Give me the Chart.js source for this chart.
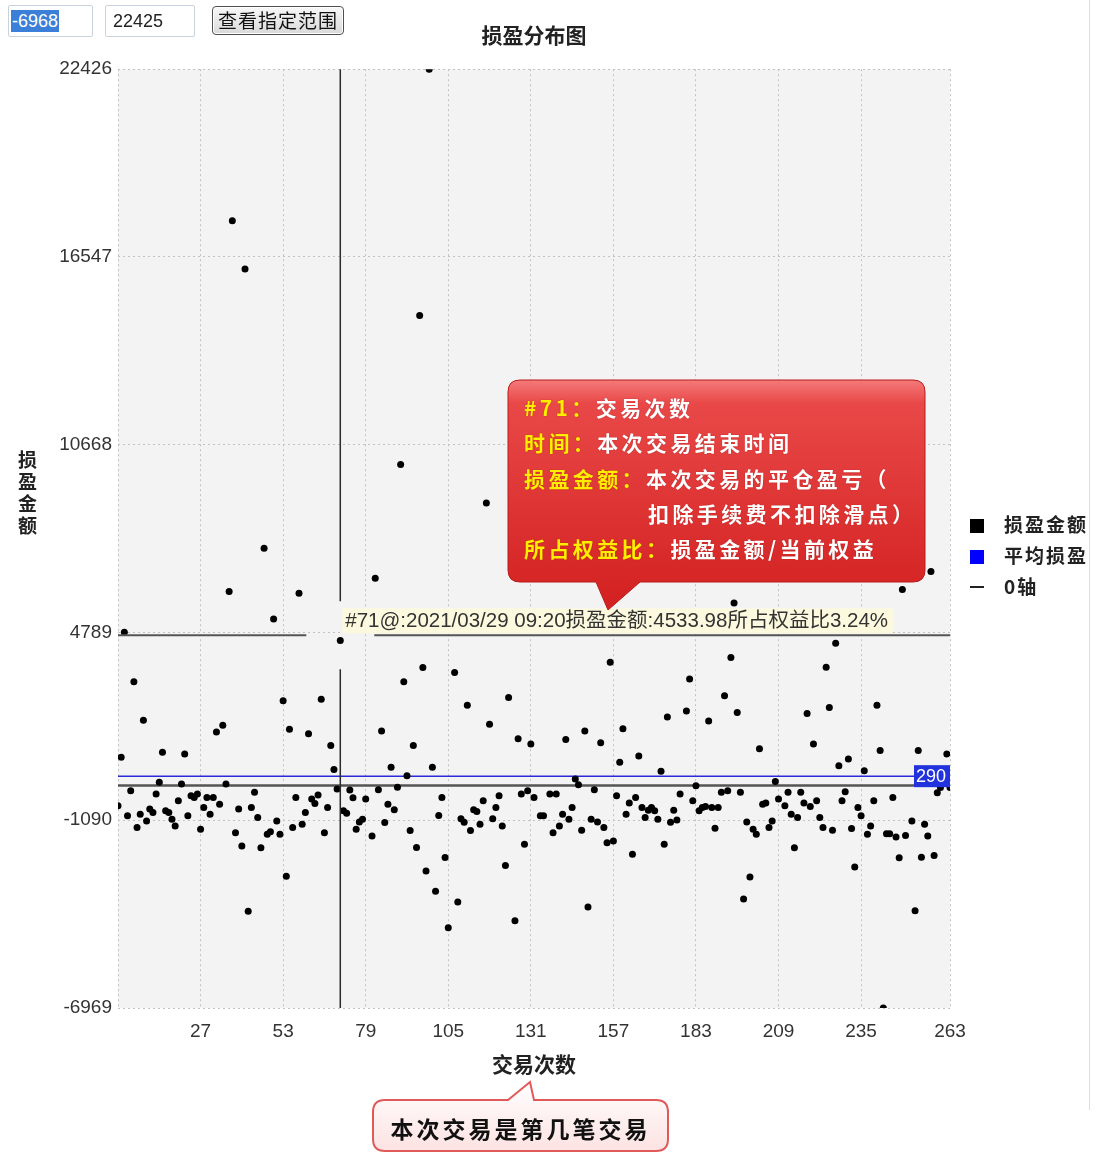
<!DOCTYPE html>
<html lang="zh">
<head>
<meta charset="utf-8">
<title>损盈分布图</title>
<script src="https://cdn.jsdelivr.net/npm/chart.js@4.4.1/dist/chart.umd.min.js"></script>
<style>
  html, body { margin: 0; padding: 0; background: #fff; }
  body { position: relative; width: 1101px; height: 1153px; overflow: hidden;
         font-family: "Noto Sans CJK SC", "Liberation Sans", sans-serif; }
  #c { position: absolute; left: 0; top: 0; }
  #shapes { position: absolute; left: 0; top: 0; pointer-events: none; }
  .field { position: absolute; top: 5px; height: 32px; box-sizing: border-box;
           border: 1px solid #c8d2dc; border-radius: 2px; background: #fff;
           font: 18px "Liberation Sans", sans-serif; line-height: 30px; color: #222; }
  #minBox { left: 8px; width: 85px; padding-left: 2px; }
  #minBox .sel { background: #3b7fd8; color: #fff; padding: 1px 1px; }
  #maxBox { left: 105px; width: 90px; padding-left: 7px; }
  #btn { position: absolute; left: 212px; top: 6px; width: 132px; height: 29px; box-sizing: border-box;
         border: 1px solid #505050; border-radius: 4px;
         background: linear-gradient(#f8f8f8, #d9d9d9); box-shadow: inset 0 0 0 1px #fff;
         font-size: 19px; line-height: 26px; text-align: center; letter-spacing: 1px; color: #111; }
  #ytitle { position: absolute; left: 14px; top: 450px; writing-mode: vertical-rl;
            font-size: 19px; font-weight: bold; letter-spacing: 3px; color: #222; }
  #legend { position: absolute; left: 968px; top: 508px; font-size: 19px; font-weight: bold;
            letter-spacing: 2px; color: #222; }
  #legend .li { height: 31px; line-height: 31px; white-space: nowrap; }
  #legend .sw { display: inline-block; width: 14px; height: 14px; margin: 0 20px 0 2px; vertical-align: -1px; }
  #legend .dash { display: inline-block; width: 14px; height: 2px; background: #222; margin: 0 20px 0 2px; vertical-align: 6px; }
  #tip { position: absolute; left: 524px; top: 390px; font-size: 21px; font-weight: bold;
         line-height: 35.25px; letter-spacing: 3.4px; color: #fff; white-space: nowrap;
         text-shadow: 0 0 1px #a01010; }
  #tip .y { color: #ffee00; }
  #tip .ind { padding-left: 124px; }
  #note { position: absolute; left: 373px; top: 1110px; width: 295px; text-align: center;
          font-size: 23px; font-weight: bold; line-height: 36px; letter-spacing: 3px; color: #111; }
  #edge { position: absolute; left: 1089px; top: 0; width: 1px; height: 1110px; background: #dedede; }
</style>
</head>
<body>
<canvas id="c" width="1101" height="1153"></canvas>

<svg id="shapes" width="1101" height="1153" viewBox="0 0 1101 1153">
  <defs>
    <linearGradient id="redFill" x1="0" y1="0" x2="0" y2="1">
      <stop offset="0" stop-color="#f47a7a"/>
      <stop offset="0.1" stop-color="#e94848"/>
      <stop offset="1" stop-color="#d32020"/>
    </linearGradient>
    <linearGradient id="pinkFill" x1="0" y1="0" x2="0" y2="1">
      <stop offset="0" stop-color="#ffffff"/>
      <stop offset="1" stop-color="#fde2e2"/>
    </linearGradient>
  </defs>
  <path d="M520 380 H913 Q925 380 925 392 V570 Q925 582 913 582 H640 L608 610 L596 582 H520 Q508 582 508 570 V392 Q508 380 520 380 Z"
        fill="url(#redFill)" stroke="#b81a1a" stroke-width="1"/>
  <path d="M385 1100 H508 L530 1082 L534 1100 H656 Q668 1100 668 1112 V1139 Q668 1151 656 1151 H385 Q373 1151 373 1139 V1112 Q373 1100 385 1100 Z"
        fill="url(#pinkFill)" stroke="#e05a5a" stroke-width="2"/>
</svg>

<div class="field" id="minBox"><span class="sel">-6968</span></div>
<div class="field" id="maxBox">22425</div>
<div id="btn">查看指定范围</div>
<div id="ytitle">损盈金额</div>
<div id="legend">
  <div class="li"><span class="sw" style="background:#000"></span>损盈金额</div>
  <div class="li"><span class="sw" style="background:#0000ff"></span>平均损盈</div>
  <div class="li"><span class="dash"></span>0轴</div>
</div>
<div id="tip">
  <div><span class="y">#71：</span>交易次数</div>
  <div><span class="y">时间：</span>本次交易结束时间</div>
  <div><span class="y">损盈金额：</span>本次交易的平仓盈亏（</div>
  <div class="ind">扣除手续费不扣除滑点）</div>
  <div><span class="y">所占权益比：</span>损盈金额/当前权益</div>
</div>
<div id="note">本次交易是第几笔交易</div>
<div id="edge"></div>

<script>
// trade results, trade number = index + 1 (null = hidden / not readable)
const pnl = [
  -640, 885, 4800, -952, -167, 3245, -1320, -901, 2040, -1110,
  -741, -845, -270, 99, 1037, -795, -845, -1057, -1267, -479,
  47, 985, -952, -323, -376, -270, -1373, -691, -376, -901,
  -376, 1673, -586, 1882, 47, 6072, 17680, -1478, -741, -1895,
  16172, -3943, -691, -217, -1004, -1948, 7423, -1530, -1448, 5210,
  -1110, -1530, 2648, -2840, 1757, -1320, -376, 6019, -1214, -845,
  1620, -428, -565, -302, 2701, -1478, -691, 1253, 497, -113,
  4534, -795, -869, -145, -386, -1373, -1142, -1057, -428, null,
  -1583, 6490, -135, 1705, -1163, -586, 571, -764, -57, 10046,
  3245, 300, -1415, 1253, -1940, 14715, 3695, -2680, 22425, 571,
  -3310, -942, -376, -2260, -4460, null, 3539, -3653, -1046, -1150,
  2510, -1415, -764, -817, -1214, -479, 8845, 1913, -1046, -691,
  -323, -1267, -2505, 2751, null, -4237, 1460, -270, -1842, -167,
  1300, -376, null, -952, -952, null, -270, -1478, -270, -1267,
  -901, 1438, -1057, -691, 203, 24, -1400, 1705, -3806, -1057,
  -135, -1142, 1336, -1320, -1792, 3858, -1740, -323, 728, 1776,
  -901, -554, -2158, -376, 919, -691, -1004, -777, -691, -795,
  -1057, 443, -1842, 2145, -1150, -777, -1084, -270, null, 2332,
  3329, -479, -7, -795, -691, -660, 2020, -691, -1339, -691,
  -217, 2805, -167, 4002, 5715, 2281, -217, -3556, -1142, -2870,
  -1373, -1530, 1148, -586, -554, -1320, -1110, 120, -428, null,
  -640, -217, -901, -1948, -1004, -217, -554, 2250, -660, 1300,
  -479, -1004, -1320, 3699, 2438, -1404, 4455, 619, -479, -198,
  828, -1351, -2558, -691, -952, 462, -1530, -1267, -479, 2510,
  1091, -6968, -1511, -1511, -376, -1617, -2266, 6138, -1564, null,
  -1110, -3922, 1091, -2246, -1214, -1583, 6697, -2193, -226, -66,
  196, 985, -66
];
const xTicks = [1, 27, 53, 79, 105, 131, 157, 183, 209, 235, 263];
const yTicks = [-6969, -1090, 4789, 10668, 16547, 22426];
const meanValue = 290;
const zeroValue = 0;
const crossTrade = 71;
const crossValue = 4700;
const crossText = '#71@:2021/03/29 09:20损盈金额:4533.98所占权益比3.24%';

const points = pnl.map((v, i) => ({ x: i + 1, y: v })).filter(p => p.y !== null);

const overlay = {
  id: 'overlay',
  beforeDraw(chart) {
    const { ctx, chartArea: a } = chart;
    ctx.save();
    ctx.fillStyle = '#f3f3f3';
    ctx.fillRect(a.left, a.top, a.right - a.left, a.bottom - a.top);
    ctx.restore();
  },
  beforeDatasetsDraw(chart) {
    const { ctx, chartArea: a, scales } = chart;
    const yMean = scales.y.getPixelForValue(meanValue);
    const yZero = scales.y.getPixelForValue(zeroValue);
    ctx.save();
    ctx.strokeStyle = '#555';
    ctx.lineWidth = 2.5;
    ctx.beginPath(); ctx.moveTo(a.left, yZero); ctx.lineTo(a.right, yZero); ctx.stroke();
    ctx.strokeStyle = '#2a2ad8';
    ctx.lineWidth = 1.5;
    ctx.beginPath(); ctx.moveTo(a.left, yMean); ctx.lineTo(a.right, yMean); ctx.stroke();
    ctx.restore();
  },
  afterDatasetsDraw(chart) {
    const { ctx, chartArea: a, scales } = chart;
    const cx = scales.x.getPixelForValue(crossTrade);
    const cy = scales.y.getPixelForValue(crossValue);
    const gap = 34;
    ctx.save();
    // crosshair
    ctx.strokeStyle = '#2b2b2b';
    ctx.lineWidth = 1.5;
    ctx.beginPath();
    ctx.moveTo(cx, a.top); ctx.lineTo(cx, cy - gap);
    ctx.moveTo(cx, cy + gap); ctx.lineTo(cx, a.bottom);
    ctx.stroke();
    ctx.strokeStyle = '#555';
    ctx.lineWidth = 2;
    ctx.beginPath();
    ctx.moveTo(a.left, cy); ctx.lineTo(cx - gap, cy);
    ctx.moveTo(cx + gap, cy); ctx.lineTo(a.right, cy);
    ctx.stroke();
    // crosshair label
    ctx.font = '20.5px "Liberation Sans", "Noto Sans CJK SC", sans-serif';
    const w = ctx.measureText(crossText).width + 8;
    ctx.fillStyle = 'rgba(252, 249, 220, 0.95)';
    ctx.fillRect(cx + 2, cy - 27, w, 25);
    ctx.fillStyle = '#333';
    ctx.textBaseline = 'middle';
    ctx.fillText(crossText, cx + 5, cy - 14);
    // mean value tag
    const yMean = scales.y.getPixelForValue(meanValue);
    ctx.beginPath();
    ctx.rect(a.left, a.top, a.right - a.left, a.bottom - a.top);
    ctx.clip();
    ctx.fillStyle = '#2233dd';
    ctx.fillRect(a.right - 36, yMean - 11, 38, 22);
    ctx.fillStyle = '#fff';
    ctx.font = '18px "Liberation Sans", sans-serif';
    ctx.fillText(String(meanValue), a.right - 34, yMean + 1);
    ctx.restore();
  }
};

new Chart(document.getElementById('c'), {
  type: 'scatter',
  data: {
    datasets: [{
      label: '损盈金额',
      data: points,
      pointRadius: 3.5,
      pointHoverRadius: 3.5,
      backgroundColor: '#000',
      borderColor: '#000',
      borderWidth: 0
    }]
  },
  options: {
    responsive: false,
    animation: false,
    events: [],
    layout: { padding: { left: 10, right: 151, top: 0, bottom: 65 } },
    plugins: {
      legend: { display: false },
      tooltip: { enabled: false },
      title: {
        display: true,
        text: '损盈分布图',
        fullSize: false,
        color: '#222',
        font: { family: 'Noto Sans CJK SC', size: 21, weight: 'bold' },
        padding: { top: 22, bottom: 22 }
      }
    },
    scales: {
      x: {
        type: 'linear',
        min: 1,
        max: 263,
        afterBuildTicks: s => { s.ticks = xTicks.map(v => ({ value: v })); },
        afterFit: s => { s.height = 80; },
        ticks: {
          autoSkip: false,
          maxRotation: 0,
          padding: 12,
          color: '#333',
          font: { family: 'Liberation Sans', size: 19 },
          callback: v => (v === 1 ? '' : v)
        },
        grid: { color: '#c2c2c2', lineWidth: 1, drawTicks: false },
        border: { display: false, dash: [2, 3] },
        title: {
          display: true,
          text: '交易次数',
          color: '#222',
          font: { family: 'Noto Sans CJK SC', size: 21, weight: 'bold' },
          padding: { top: 0, bottom: 11 }
        }
      },
      y: {
        type: 'linear',
        min: -6969,
        max: 22426,
        afterBuildTicks: s => { s.ticks = yTicks.map(v => ({ value: v })); },
        afterFit: s => { s.width = 108; },
        ticks: {
          padding: 6,
          color: '#333',
          font: { family: 'Liberation Sans', size: 19 },
          callback: v => String(v)
        },
        grid: { color: '#c2c2c2', lineWidth: 1, drawTicks: false },
        border: { display: false, dash: [2, 3] }
      }
    }
  },
  plugins: [overlay]
});
</script>
</body>
</html>
